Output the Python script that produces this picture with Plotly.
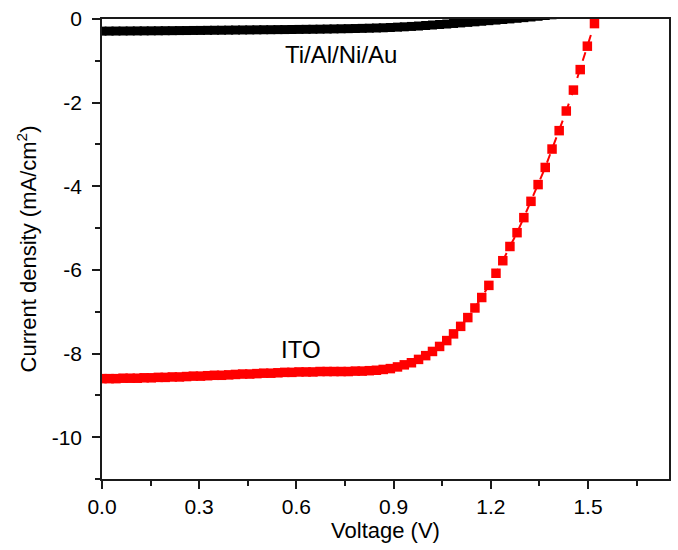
import plotly.graph_objects as go

# Voltage sweep (V)
voltage_ito = [0.000, 0.022, 0.043, 0.065, 0.087, 0.109, 0.130, 0.152, 0.174, 0.195,
               0.217, 0.239, 0.261, 0.282, 0.304, 0.326, 0.347, 0.369, 0.391, 0.412,
               0.434, 0.456, 0.478, 0.499, 0.521, 0.543, 0.564, 0.586, 0.608, 0.630,
               0.651, 0.673, 0.695, 0.716, 0.738, 0.760, 0.782, 0.803, 0.825, 0.847,
               0.868, 0.890, 0.912, 0.933, 0.955, 0.977, 0.999, 1.020, 1.042, 1.064,
               1.085, 1.107, 1.129, 1.151, 1.172, 1.194, 1.216, 1.237, 1.259, 1.281,
               1.302, 1.324, 1.346, 1.368, 1.389, 1.411, 1.433, 1.455, 1.476, 1.498,
               1.520]
current_ito = [-8.60, -8.60, -8.60, -8.59, -8.59, -8.59, -8.58, -8.58, -8.57, -8.57,
               -8.56, -8.56, -8.55, -8.54, -8.54, -8.53, -8.52, -8.52, -8.51, -8.50,
               -8.49, -8.49, -8.48, -8.47, -8.47, -8.46, -8.45, -8.45, -8.44, -8.44,
               -8.44, -8.43, -8.43, -8.43, -8.43, -8.43, -8.42, -8.42, -8.41, -8.40,
               -8.38, -8.36, -8.32, -8.27, -8.22, -8.14, -8.05, -7.95, -7.83, -7.69,
               -7.53, -7.35, -7.14, -6.91, -6.66, -6.37, -6.08, -5.78, -5.44, -5.11,
               -4.75, -4.36, -3.96, -3.55, -3.11, -2.67, -2.20, -1.70, -1.21, -0.65,
               -0.11]

voltage_metal = [0.000, 0.022, 0.043, 0.065, 0.087, 0.109, 0.130, 0.152, 0.174, 0.195,
                 0.217, 0.239, 0.261, 0.282, 0.304, 0.326, 0.347, 0.369, 0.391, 0.412,
                 0.434, 0.456, 0.478, 0.499, 0.521, 0.543, 0.564, 0.586, 0.608, 0.630,
                 0.651, 0.673, 0.695, 0.716, 0.738, 0.760, 0.782, 0.803, 0.825, 0.847,
                 0.868, 0.890, 0.912, 0.933, 0.955, 0.977, 0.999, 1.020, 1.042, 1.064,
                 1.085, 1.107, 1.129, 1.151, 1.172, 1.194, 1.216, 1.237, 1.259, 1.281,
                 1.302, 1.324, 1.346, 1.368, 1.389, 1.411]
current_metal = [-0.290, -0.289, -0.288, -0.287, -0.286, -0.285, -0.284, -0.283, -0.282, -0.280,
                 -0.279, -0.277, -0.276, -0.274, -0.273, -0.271, -0.269, -0.268, -0.266, -0.264,
                 -0.262, -0.261, -0.259, -0.257, -0.256, -0.254, -0.253, -0.251, -0.249, -0.247,
                 -0.245, -0.243, -0.240, -0.237, -0.234, -0.231, -0.228, -0.224, -0.220, -0.215,
                 -0.210, -0.203, -0.195, -0.187, -0.178, -0.168, -0.156, -0.144, -0.132, -0.120,
                 -0.107, -0.094, -0.081, -0.068, -0.054, -0.040, -0.026, -0.012, 0.002, 0.017,
                 0.032, 0.048, 0.065, 0.083, 0.101, 0.120]

x_ticks = [0.0, 0.3, 0.6, 0.9, 1.2, 1.5]
y_ticks = [0, -2, -4, -6, -8, -10]

FONT = "Liberation Sans, Arial, sans-serif"

fig = go.Figure()
fig.add_trace(go.Scatter(
    x=voltage_metal, y=current_metal, mode="lines+markers",
    line=dict(color="black", width=2),
    marker=dict(symbol="square", size=9, color="black"),
    showlegend=False))
fig.add_trace(go.Scatter(
    x=voltage_ito, y=current_ito, mode="lines+markers",
    line=dict(color="red", width=2, dash="dash"),
    marker=dict(symbol="square", size=9.5, color="red"),
    showlegend=False))

fig.add_annotation(x=0.738, y=-0.85, text="Ti/Al/Ni/Au", showarrow=False,
                   font=dict(size=24, color="black", family=FONT))
fig.add_annotation(x=0.614, y=-7.9, text="ITO", showarrow=False,
                   font=dict(size=24, color="black", family=FONT))

axis_common = dict(showline=True, linecolor="#1a1a1a", linewidth=1.5, mirror=True,
                   ticks="outside", ticklen=8, tickwidth=1.5, tickcolor="#1a1a1a",
                   showgrid=False, zeroline=False,
                   tickfont=dict(size=21, color="black", family=FONT))

fig.update_xaxes(range=[0, 1.75], tickvals=x_ticks,
                 ticktext=[f"{v:.1f}" for v in x_ticks],
                 minor=dict(dtick=0.15, tick0=0, ticks="outside", ticklen=5,
                            tickwidth=1.5, tickcolor="#1a1a1a", showgrid=False),
                 title=dict(text="Voltage (V)", font=dict(size=22, color="black", family=FONT),
                            standoff=6),
                 **axis_common)
fig.update_yaxes(range=[-11, 0], tickvals=y_ticks,
                 ticktext=[str(v) for v in y_ticks],
                 ticklabelstandoff=6,
                 minor=dict(dtick=1, tick0=0, ticks="outside", ticklen=5,
                            tickwidth=1.5, tickcolor="#1a1a1a", showgrid=False),
                 title=dict(text="Current density (mA/cm<sup>2</sup>)",
                            font=dict(size=22, color="black", family=FONT), standoff=9),
                 **axis_common)

fig.update_layout(width=678, height=550, margin=dict(l=102, r=7, t=17, b=71),
                  plot_bgcolor="white", paper_bgcolor="white",
                  font=dict(family=FONT, color="black"))

fig.write_html("out.html")
